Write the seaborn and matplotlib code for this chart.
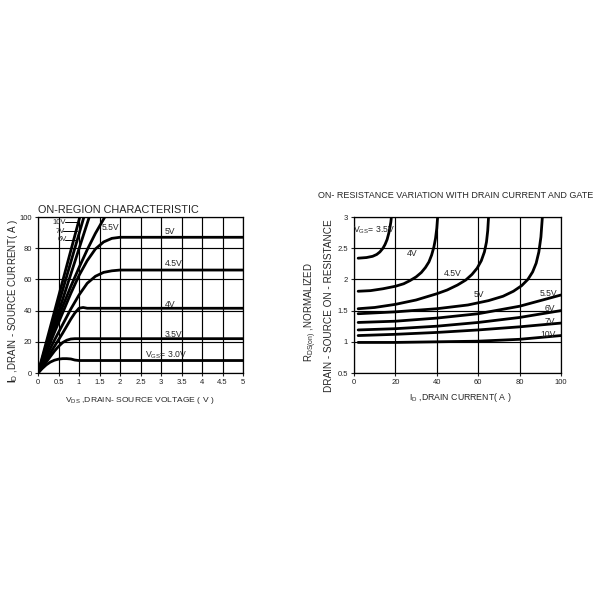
import numpy as np
import pandas as pd
import seaborn as sns
import matplotlib
matplotlib.use('Agg')
import matplotlib.pyplot as plt

# ---- left chart: on-region characteristic (VDS in V, ID in A)
vds_30 = [0, 0.1, 0.2, 0.3, 0.4, 0.5, 0.6, 0.7, 0.8, 0.9, 1.0, 5.0]
id_30 = [0, 2.8, 5.2, 7.0, 8.2, 8.9, 9.2, 9.2, 9.0, 8.3, 8.0, 8.0]
vds_35 = [0, 0.1, 0.2, 0.3, 0.4, 0.5, 0.6, 0.7, 0.8, 0.9, 1.0, 5.0]
id_35 = [0, 3.5, 7, 10.5, 14, 17, 19.5, 21, 21.8, 22, 22, 22]
vds_40 = [0, 0.2, 0.4, 0.6, 0.7, 0.8, 0.9, 1.0, 1.1, 1.2, 5.0]
id_40 = [0, 8.5, 17, 25.5, 30, 34.5, 38.5, 41.5, 42, 41.5, 41.5]
vds_45 = [0, 0.2, 0.4, 0.6, 0.8, 1.0, 1.2, 1.4, 1.6, 1.8, 2.0, 5.0]
id_45 = [0, 10.5, 21, 31, 41, 50, 57.5, 62, 64.5, 65.5, 66, 66]
vds_50 = [0, 0.2, 0.4, 0.6, 0.8, 1.0, 1.2, 1.4, 1.6, 1.8, 2.0, 5.0]
id_50 = [0, 13, 26, 38.5, 51, 62.5, 72, 79.5, 84, 86.3, 87, 87]
vds_55 = [0, 0.2, 0.4, 0.6, 0.8, 1.0, 1.2, 1.4, 1.63]
id_55 = [0, 14.5, 29, 42.5, 55.5, 67.5, 79, 89.5, 100]
vds_60 = [0, 0.6, 1.25]
id_60 = [0, 47, 100]
vds_70 = [0, 0.6, 1.12]
id_70 = [0, 53, 100]
vds_100 = [0, 0.5, 1.02]
id_100 = [0, 49, 100]

left_curves = [(vds_30, id_30), (vds_35, id_35), (vds_40, id_40), (vds_45, id_45),
               (vds_50, id_50), (vds_55, id_55), (vds_60, id_60), (vds_70, id_70),
               (vds_100, id_100)]

# ---- right chart: normalized on-resistance vs drain current
id_r35 = [2, 6, 9, 11, 12.5, 14, 15, 16, 16.8, 17.4, 17.8, 18]
r_35 = [2.34, 2.35, 2.37, 2.40, 2.44, 2.50, 2.56, 2.64, 2.74, 2.84, 2.92, 2.98]
id_r40 = [2, 8, 14, 20, 24, 27, 30, 32.5, 34.5, 36.2, 37.5, 38.6, 39.4, 40, 40.4]
r_40 = [1.81, 1.82, 1.85, 1.89, 1.93, 1.98, 2.04, 2.11, 2.19, 2.28, 2.39, 2.52, 2.66, 2.82, 3.0]
id_r45 = [2, 10, 20, 30, 40, 45, 50, 54, 57, 59.5, 61.5, 63, 64, 64.6, 65]
r_45 = [1.53, 1.55, 1.60, 1.67, 1.77, 1.83, 1.91, 1.99, 2.08, 2.18, 2.30, 2.44, 2.6, 2.78, 3.0]
id_r50 = [2, 20, 40, 55, 65, 72, 77, 81, 84, 86.3, 88, 89.3, 90.3, 91]
r_50 = [1.45, 1.48, 1.53, 1.59, 1.66, 1.73, 1.81, 1.90, 2.00, 2.12, 2.26, 2.44, 2.68, 3.0]
id_rx = [2, 20, 40, 60, 80, 100]
r_55 = [1.31, 1.33, 1.38, 1.45, 1.57, 1.75]
r_60 = [1.19, 1.21, 1.25, 1.31, 1.39, 1.50]
r_70 = [1.10, 1.12, 1.15, 1.19, 1.24, 1.30]
r_100 = [0.99, 0.99, 1.0, 1.01, 1.04, 1.10]

right_curves = [(id_r35, r_35), (id_r40, r_40), (id_r45, r_45), (id_r50, r_50),
                (id_rx, r_55), (id_rx, r_60), (id_rx, r_70), (id_rx, r_100)]

sns.set_style('ticks')
plt.rcParams['font.family'] = ['Liberation Sans', 'DejaVu Sans']
plt.rcParams['mathtext.fontset'] = 'custom'
plt.rcParams['mathtext.rm'] = 'Liberation Sans'
plt.rcParams['mathtext.bf'] = 'Liberation Sans:bold'

fig = plt.figure(figsize=(6, 6), dpi=100)
W = 600.0

def px_axes(l, t, r, b):
    return fig.add_axes([l / W, 1 - b / W, (r - l) / W, (b - t) / W])

ax1 = px_axes(38, 217, 243, 373)
ax2 = px_axes(354, 217, 561, 373)

for x, y in left_curves:
    sns.lineplot(x=x, y=y, ax=ax1, color='black', lw=2.0, sort=False, estimator=None)
for x, y in right_curves:
    sns.lineplot(x=x, y=y, ax=ax2, color='black', lw=2.0, sort=False, estimator=None)

tfs = 5.5
# left axes
ax1.set_xlim(0, 5)
ax1.set_ylim(0, 100)
ax1.set_xticks(np.arange(0, 5.01, 0.5))
ax1.set_xticklabels(['0', '0.5', '1', '1.5', '2', '2.5', '3', '3.5', '4', '4.5', '5'])
ax1.set_yticks([0, 20, 40, 60, 80, 100])
# right axes
ax2.set_xlim(0, 100)
ax2.set_ylim(0.5, 3)
ax2.set_xticks([0, 20, 40, 60, 80, 100])
ax2.set_yticks([0.5, 1, 1.5, 2, 2.5, 3])
ax2.set_yticklabels(['0.5', '1', '1.5', '2', '2.5', '3'])

for ax in (ax1, ax2):
    ax.grid(True, color='black', lw=0.85)
    ax.set_axisbelow(True)
    ax.tick_params(labelsize=tfs, length=2.5, width=0.8, pad=2, colors='#222222')
    for s in ax.spines.values():
        s.set_visible(True)
        s.set_color('black')
        s.set_linewidth(0.9)
    ax.set_xlabel('')
    ax.set_ylabel('')

lfs = 6.2
sfs = 5.5
# left curve labels (small ones with leader lines)
ax1.text(0.36, 96.5, '10V', fontsize=sfs, va='center')
ax1.plot([0.66, 0.98], [96.5, 96.5], color='black', lw=0.7)
ax1.text(0.44, 91, '7V', fontsize=sfs, va='center')
ax1.plot([0.62, 0.96], [91, 91], color='black', lw=0.7)
ax1.text(0.47, 85.5, '6V', fontsize=sfs, va='center')
ax1.plot([0.66, 0.95], [85.5, 85.5], color='black', lw=0.7)
ax1.text(1.56, 93, '5.5V', fontsize=lfs, va='center')
ax1.text(3.1, 90.5, '5V', fontsize=lfs, va='center')
ax1.text(3.1, 70, '4.5V', fontsize=lfs, va='center')
ax1.text(3.1, 44, '4V', fontsize=lfs, va='center')
ax1.text(3.1, 24.5, '3.5V', fontsize=lfs, va='center')
ax1.text(2.6, 11.5, r'V$_{\mathregular{GS}}$= 3.0V', fontsize=lfs, va='center')

# right curve labels
ax2.text(-0.5, 2.78, r'V$_{\mathregular{GS}}$= 3.5V', fontsize=lfs, va='center')
ax2.text(25.5, 2.42, '4V', fontsize=lfs, va='center')
ax2.text(43.5, 2.09, '4.5V', fontsize=lfs, va='center')
ax2.text(58, 1.76, '5V', fontsize=lfs, va='center')
ax2.text(89.5, 1.77, '5.5V', fontsize=lfs, va='center')
ax2.text(92, 1.54, '6V', fontsize=lfs, va='center')
ax2.text(92, 1.33, '7V', fontsize=lfs, va='center')
ax2.text(90, 1.12, '10V', fontsize=lfs, va='center')

# titles and axis labels
fig.text(38 / W, 1 - 210 / W, 'ON-REGION CHARACTERISTIC', fontsize=7.8, ha='left', va='center')
fig.text(456 / W, 1 - 195 / W, 'ON- RESISTANCE VARIATION WITH DRAIN CURRENT AND GATE',
         fontsize=6.5, ha='center', va='center')
fig.text(140 / W, 1 - 400 / W, r'V$_{\mathregular{DS}}$ ,DRAIN- SOURCE VOLTAGE ( V )',
         fontsize=6.1, ha='center', va='center')
fig.text(13 / W, 1 - 301 / W, r'$\mathbf{I}_{\mathregular{D}}$ ,DRAIN - SOURCE CURRENT( A )',
         fontsize=7.0, ha='center', va='center', rotation=90)
fig.text(460 / W, 1 - 398 / W, r'I$_{\mathregular{D}}$ ,DRAIN CURRENT( A )',
         fontsize=6.3, ha='center', va='center')
fig.text(311 / W, 1 - 312 / W, r'R$_{\mathregular{DS(on)}}$ ,NORMALIZED',
         fontsize=7.0, ha='center', va='center', rotation=90)
fig.text(329 / W, 1 - 306 / W, 'DRAIN - SOURCE ON - RESISTANCE',
         fontsize=7.2, ha='center', va='center', rotation=90)

fig.savefig('out.png', dpi=100, facecolor='white')
